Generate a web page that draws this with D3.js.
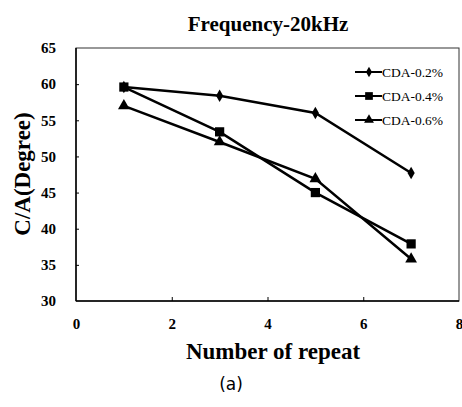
<!DOCTYPE html>
<html>
<head>
<meta charset="utf-8">
<script src="https://d3js.org/d3.v7.min.js"></script>
<style>
body { margin: 0; background: #fff; }
</style>
</head>
<body>
<div id="chart"></div>
<script>
var width = 462,
    height = 407;

// data
var repeats = [1, 3, 5, 7];
var cda02 = [59.6, 58.4, 56.0, 47.7];
var cda04 = [59.6, 53.4, 45.0, 37.9];
var cda06 = [57.0, 52.0, 46.9, 35.8];
var seriesNames = ["CDA-0.2%", "CDA-0.4%", "CDA-0.6%"];
var xTicks = [0, 2, 4, 6, 8];
var yTicks = [30, 35, 40, 45, 50, 55, 60, 65];

var svg = d3.select('#chart').append('svg')
    .attr('width', width)
    .attr('height', height)
    .attr('font-family', 'Liberation Serif, serif');

var plotL = 76, plotR = 459, plotT = 48, plotB = 301;

var scaleX = d3.scaleLinear().domain([0, 8]).range([plotL, plotR]);
var scaleY = d3.scaleLinear().domain([30, 65]).range([plotB, plotT]);

// frame
svg.append("rect")
    .attr("x", plotL).attr("y", plotT)
    .attr("width", plotR - plotL).attr("height", plotB - plotT)
    .attr("fill", "none").attr("stroke", "#333").attr("stroke-width", 1);
svg.append("line")
    .attr("x1", plotL).attr("x2", plotL).attr("y1", plotT).attr("y2", plotB)
    .attr("stroke", "#000").attr("stroke-width", 1.5);
svg.append("line")
    .attr("x1", plotL).attr("x2", plotR).attr("y1", plotB).attr("y2", plotB)
    .attr("stroke", "#000").attr("stroke-width", 1.5);

// axes
var axisY = d3.axisLeft(scaleY).tickValues(yTicks).tickSize(-3).tickPadding(20);
var gy = svg.append("g").attr("transform", "translate(" + plotL + ",0)").call(axisY);
var axisX = d3.axisBottom(scaleX).tickValues(xTicks).tickSize(-4).tickPadding(17);
var gx = svg.append("g").attr("transform", "translate(0," + plotB + ")").call(axisX);
[gx, gy].forEach(function(g) {
    g.select(".domain").remove();
    g.attr("font-family", "Liberation Serif, serif").attr("font-size", 15).attr("font-weight", "bold");
    g.selectAll(".tick line").attr("stroke", "#000");
    g.selectAll(".tick text").attr("fill", "#000");
});
gy.selectAll(".tick").filter(function(d) { return d == 30 || d == 65; }).select("line").remove();
gx.selectAll(".tick").filter(function(d) { return d == 0 || d == 8; }).select("line").remove();

// titles
svg.append("text")
    .attr("x", 268).attr("y", 31)
    .attr("text-anchor", "middle")
    .attr("font-weight", "bold").attr("font-size", 21)
    .text("Frequency-20kHz");
svg.append("text")
    .attr("x", 273).attr("y", 359)
    .attr("text-anchor", "middle")
    .attr("font-weight", "bold").attr("font-size", 23)
    .text("Number of repeat");
svg.append("text")
    .attr("transform", "translate(30,174) rotate(-90)")
    .attr("text-anchor", "middle")
    .attr("font-weight", "bold").attr("font-size", 23)
    .text("C/A(Degree)");
svg.append("text")
    .attr("x", 231).attr("y", 390)
    .attr("text-anchor", "middle")
    .attr("font-family", "DejaVu Sans, sans-serif")
    .attr("font-size", 17)
    .text("(a)");

var lineFunc = d3.line()
    .x(function(d) { return scaleX(d.x); })
    .y(function(d) { return scaleY(d.y); });

var data = [cda02, cda04, cda06].map(function(vals, i) {
    return {
        name: seriesNames[i],
        shape: [d3.symbolDiamond, d3.symbolSquare, d3.symbolTriangle][i],
        size: [45, 85, 60][i],
        line: vals.map(function(v, j) { return {x: repeats[j], y: v}; })
    };
});

var g = svg.append("g");
g.selectAll(".series").data(data).enter().append("path")
    .attr("class", "series")
    .attr("d", function(d) { return lineFunc(d.line); })
    .attr("fill", "none")
    .attr("stroke", "#000")
    .attr("stroke-width", 2.5);

data.forEach(function(s) {
    g.selectAll(null).data(s.line).enter().append("path")
        .attr("transform", function(d) { return "translate(" + scaleX(d.x) + "," + scaleY(d.y) + ")"; })
        .attr("d", d3.symbol().type(s.shape).size(s.size))
        .attr("fill", "#000");
});

// legend
var legend = svg.append("g").attr("transform", "translate(355,72)");
var rows = legend.selectAll(".row").data(data).enter().append("g")
    .attr("class", "row")
    .attr("transform", function(d, i) { return "translate(0," + (i * 24) + ")"; });
rows.append("line")
    .attr("x1", 0).attr("x2", 27)
    .attr("stroke", "#000").attr("stroke-width", 2);
rows.append("path")
    .attr("transform", "translate(14,0)")
    .attr("d", function(d) { return d3.symbol().type(d.shape).size(d.size * 0.7)(); })
    .attr("fill", "#000");
rows.append("text")
    .attr("x", 27).attr("y", 0).attr("dy", "0.35em")
    .attr("font-size", 13.5)
    .text(function(d) { return d.name; });
</script>
</body>
</html>
